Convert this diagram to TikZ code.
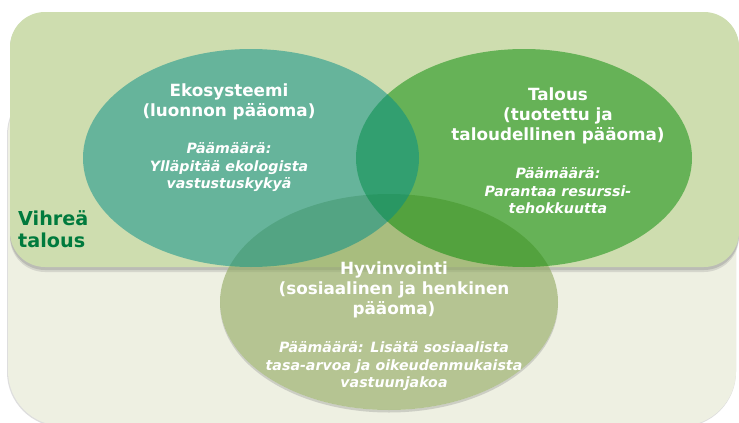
\documentclass[tikz,border=0pt]{standalone}
\usepackage{fontspec}
\setmainfont{DejaVu Sans}
\definecolor{lightbox}{RGB}{238,240,226}
\definecolor{greenbox}{RGB}{206,221,175}
\definecolor{ekoC}{RGB}{0,141,137}
\definecolor{talC}{RGB}{0,137,0}
\definecolor{hyvC}{RGB}{143,168,94}
\definecolor{vihrea}{RGB}{0,122,61}
\tikzset{
  titletext/.style={text=white, align=center, inner sep=0pt,
    font=\fontsize{16.8}{20}\selectfont\bfseries},
  goaltext/.style={text=white, align=center, inner sep=0pt,
    font=\fontsize{14.2}{17.5}\selectfont\bfseries\itshape},
  vihtext/.style={text=vihrea, align=left, inner sep=0pt, anchor=west,
    font=\fontsize{19.2}{22}\selectfont\bfseries},
}
\begin{document}
\begin{tikzpicture}[x=1pt,y=-1pt]
\useasboundingbox (0,0) rectangle (739,423);
\fill[white] (0,0) rectangle (739,423);
% outer light panel with faint shadow
\fill[black!25, opacity=0.5, rounded corners=55pt] (7,80) rectangle (736,427);
\fill[lightbox, rounded corners=55pt] (8,80) rectangle (736,426);
% green panel with shadow
\fill[black!45, opacity=0.35, rounded corners=35pt] (10,13) rectangle (739,270);
\fill[black!45, opacity=0.25, rounded corners=35pt] (10,13) rectangle (739,272);
\fill[greenbox, rounded corners=35pt] (10,12) rectangle (739,267);
% Hyvinvointi ellipse shadow (lower crescent only)
\begin{scope}
  \clip (200,302) rectangle (580,423);
  \fill[black!50, opacity=0.3, even odd rule]
    (389,304.5) ellipse [x radius=169pt, y radius=108pt]
    (389,302) ellipse [x radius=169pt, y radius=108pt];
\end{scope}
\fill[hyvC, fill opacity=0.6] (389,302) ellipse [x radius=169pt, y radius=108pt];
\fill[talC, fill opacity=0.5] (524,158) ellipse [x radius=168pt, y radius=109pt];
\fill[ekoC, fill opacity=0.5] (251,158) ellipse [x radius=168pt, y radius=109pt];
% texts
\node[titletext] (ekoT) at (229,101.5) {Ekosysteemi\\(luonnon pääoma)};
\node[goaltext] (ekoG) at (229,167.5) {Päämäärä:\\Ylläpitää ekologista\\vastustuskykyä};
\node[titletext] (talT) at (558,116) {Talous\\(tuotettu ja\\taloudellinen pääoma)};
\node[goaltext] (talG) at (558,191) {Päämäärä:\\Parantaa resurssi-\\tehokkuutta};
\node[titletext] (hyvT) at (394,289.5) {Hyvinvointi\\(sosiaalinen ja henkinen\\pääoma)};
\node[goaltext] (hyvG) at (394,366.5) {Päämäärä: Lisätä sosiaalista\\tasa-arvoa ja oikeudenmukaista\\vastuunjakoa};
\node[vihtext] (vih) at (18,229) {Vihreä\\talous};
\end{tikzpicture}
\end{document}
